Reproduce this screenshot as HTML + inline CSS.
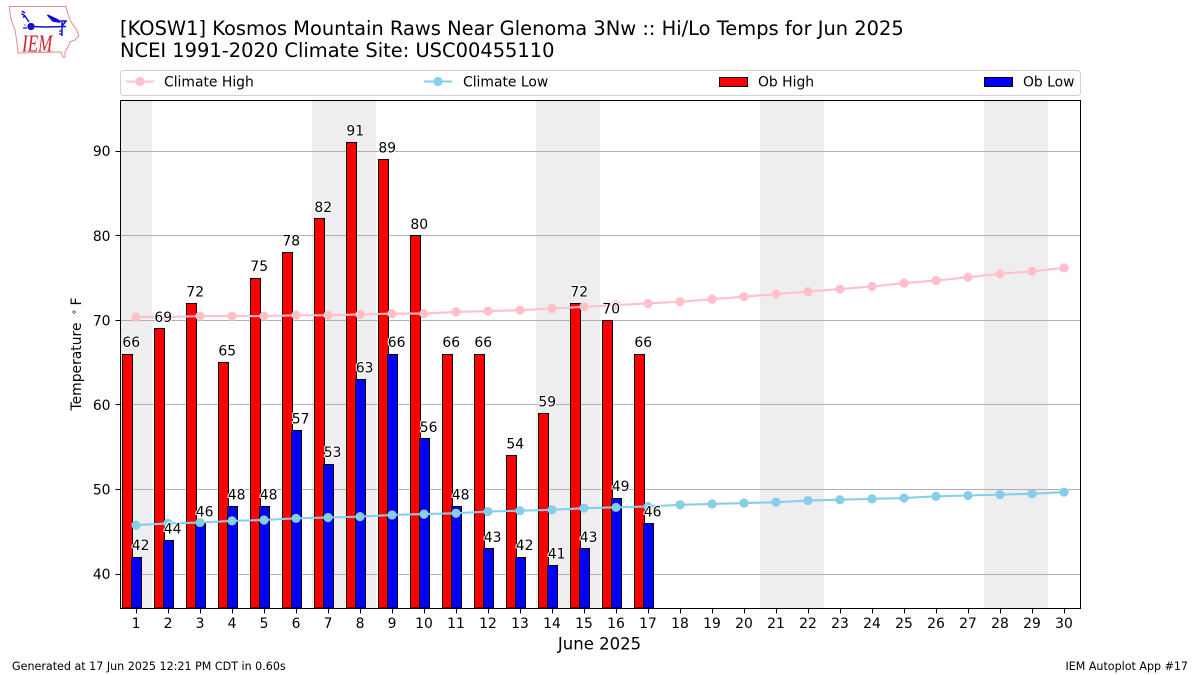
<!DOCTYPE html>
<html lang="en">
<head>
<meta charset="utf-8">
<title>Hi/Lo Temps for Jun 2025</title>
<style>
html,body{margin:0;padding:0;background:#fff;}
svg{display:block;}
text{font-family:"DejaVu Sans","Liberation Sans",sans-serif;fill:#000;}
</style>
</head>
<body>
<svg id="chart" xmlns="http://www.w3.org/2000/svg" width="1200" height="675" viewBox="0 0 1200 675">
  <rect x="0" y="0" width="1200" height="675" fill="#fff"/>
  <g>
    <path d="M9.5 6.5 L66 6.5 L68 14 L71 22 L76.7 30 L78.7 36 L75 40 L70 42 L68 47 L65 52 L65 57 L63 57 L61 52 L18 53 L17 43 L15 30 L12 22 L10 14 Z" fill="#fff" stroke="#e58a8a" stroke-width="1"/>
    <g stroke="#1010d0" fill="none" stroke-width="1.5">
      <path d="M31 26.5 L46 27 L66 26.5 M54 21 L66 21 L62 26 M62 22 L62 36 M29 22 L25 16 L21.5 13.5 M25 16 L23 17.5 M22 11 L25 13"/>
      <path d="M47.5 15 L58 20 L59 22 L53 21 Z" fill="#1010d0"/>
      <circle cx="31" cy="26.5" r="2.9" fill="#1010d0"/>
      <path d="M23 28 l4 0 M24.5 25 l1 0 M59 31 l2.5 0 M59 34 l2.5 0" stroke-width="1.3"/>
    </g>
    <text transform="translate(22,51.5) scale(0.95,1.35)" style="font-family:'Liberation Serif',serif;font-style:italic;font-size:18px;fill:#d8202a;">IEM</text>
  </g>
  <text x="120" y="35" font-size="19.44">[KOSW1] Kosmos Mountain Raws Near Glenoma 3Nw :: Hi/Lo Temps for Jun 2025</text>
  <text x="120" y="57" font-size="19.44">NCEI 1991-2020 Climate Site: USC00455110</text>

  <g>
    <rect x="120.5" y="70.5" width="960" height="25" rx="3" fill="#fff" stroke="#d0d0d0"/>
    <g>
      <line x1="126" x2="154" y1="81.5" y2="81.5" stroke="#ffc0cb" stroke-width="2.08"/>
      <circle cx="140" cy="81.5" r="4.6" fill="#ffc0cb"/>
      <text x="164" y="86.5" font-size="13.9">Climate High</text>
    </g>
    <g>
      <line x1="424" x2="452" y1="81.5" y2="81.5" stroke="#87ceeb" stroke-width="2.08"/>
      <circle cx="438" cy="81.5" r="4.6" fill="#87ceeb"/>
      <text x="463" y="86.5" font-size="13.9">Climate Low</text>
    </g>
    <g>
      <rect x="719.5" y="77.5" width="28" height="9" fill="#f00" stroke="#000"/>
      <text x="758" y="86.5" font-size="13.9">Ob High</text>
    </g>
    <g>
      <rect x="984.5" y="77.5" width="28" height="9" fill="#00f" stroke="#000"/>
      <text x="1023" y="86.5" font-size="13.9">Ob Low</text>
    </g>
  </g>

  <g id="bands"></g>
  <g id="grid"></g>
  <g id="bars"></g>
  <g id="lines"></g>
  <g id="labels"></g>
  <rect x="120.5" y="100.5" width="960" height="508" fill="none" stroke="#000" stroke-width="1"/>
  <g id="xaxis"></g>
  <g id="yaxis"></g>

  <text x="599.5" y="649.5" font-size="16.5" text-anchor="middle">June 2025</text>
  <text transform="translate(81,410.5) rotate(-90)" font-size="13.9"><tspan x="0">Temperature</tspan><tspan x="96" dy="-1" font-size="9.7">°</tspan><tspan x="105" dy="1">F</tspan></text>
  <text x="12" y="670" font-size="11.12">Generated at 17 Jun 2025 12:21 PM CDT in 0.60s</text>
  <text x="1188" y="670" font-size="11.1" text-anchor="end">IEM Autoplot App #17</text>
</svg>
<script>
const days = [1,2,3,4,5,6,7,8,9,10,11,12,13,14,15,16,17,18,19,20,21,22,23,24,25,26,27,28,29,30];
const obHigh = [66,69,72,65,75,78,82,91,89,80,66,66,54,59,72,70,66];
const obLow = [42,44,46,48,48,57,53,63,66,56,48,43,42,41,43,49,46];
const climateHigh = [70.4,70.4,70.5,70.5,70.5,70.6,70.6,70.7,70.8,70.8,71.0,71.1,71.2,71.4,71.6,71.8,72.0,72.2,72.5,72.8,73.1,73.4,73.7,74.0,74.4,74.7,75.1,75.5,75.8,76.2];
const climateLow = [45.8,46.0,46.1,46.3,46.4,46.6,46.7,46.8,47.0,47.1,47.2,47.4,47.5,47.6,47.8,47.9,48.0,48.2,48.3,48.4,48.5,48.7,48.8,48.9,49.0,49.2,49.3,49.4,49.5,49.7];
const yTicks = [40,50,60,70,80,90];
const weekendSpans = [[0.5,1.5],[6.5,8.5],[13.5,15.5],[20.5,22.5],[27.5,29.5]];

const NS = 'http://www.w3.org/2000/svg';
const x = d => 120 + (d - 0.5) * 32;
const y = v => 608 - (v - 36) * 8.46;
const BASE = y(36);
const snap = v => Math.floor(v) + 0.5;
function mk(parent, tag, attrs, txt) {
  const el = document.createElementNS(NS, tag);
  for (const k in attrs) el.setAttribute(k, attrs[k]);
  if (txt !== undefined) el.textContent = txt;
  parent.appendChild(el);
  return el;
}
const gBands = document.getElementById('bands');
const gGrid = document.getElementById('grid');
const gBars = document.getElementById('bars');
const gLines = document.getElementById('lines');
const gLabels = document.getElementById('labels');
const gX = document.getElementById('xaxis');
const gY = document.getElementById('yaxis');

weekendSpans.forEach(s => {
  const el = mk(gBands, 'rect', {x: x(s[0]), y: 100.5, width: x(s[1]) - x(s[0]), height: 508, fill: '#eeeeee'});
  
  
});
yTicks.forEach(t => {
  const g = mk(gGrid, 'line', {x1: 120.5, x2: 1080, y1: snap(y(t)), y2: snap(y(t)), stroke: '#b0b0b0', 'stroke-width': 1});
  
  
  const k = mk(gY, 'line', {x1: 115.5, x2: 120.5, y1: snap(y(t)), y2: snap(y(t)), stroke: '#000', 'stroke-width': 1});
  
  
  const l = mk(gY, 'text', {x: 110.5, y: y(t) + 5, 'font-size': 13.9, 'text-anchor': 'end'}, t);
  
  
});
days.forEach(d => {
  const k = mk(gX, 'line', {x1: snap(x(d)), x2: snap(x(d)), y1: 608.5, y2: 613.5, stroke: '#000', 'stroke-width': 1});
  
  
  const l = mk(gX, 'text', {x: x(d), y: 628, 'font-size': 13.9, 'text-anchor': 'middle'}, d);
  
  
});
function bars(values, off, fill, name) {
  values.forEach((v, i) => {
    const left = snap(x(days[i]) + off);
    const right = snap(x(days[i]) + off + 9.6);
    const top = snap(y(v));
    const b = mk(gBars, 'rect', {x: left, y: top, width: right - left, height: BASE - top, fill: fill, stroke: '#000', 'stroke-width': 1});
    
    
  });
}
function labels(values, off, name) {
  values.forEach((v, i) => {
    const left = x(days[i]) + off;
    const t = mk(gLabels, 'text', {x: left, y: y(v) - 7, 'font-size': 13.9, stroke: '#fff', 'stroke-width': 2, 'paint-order': 'stroke', 'stroke-linejoin': 'round'}, v);
    
    
  });
}
bars(obHigh, -13.6, '#ff0000', 'ob-high-bar');
bars(obLow, -4.2, '#0000ff', 'ob-low-bar');
function series(values, color, name) {
  const p = mk(gLines, 'polyline', {points: values.map((v, i) => x(days[i]) + ',' + y(v)).join(' '), fill: 'none', stroke: color, 'stroke-width': 2.08});
  
  
  values.forEach((v, i) => {
    const c = mk(gLines, 'circle', {cx: x(days[i]), cy: y(v), r: 4.6, fill: color});
    
    
  });
}
series(climateHigh, '#ffc0cb', 'climate-high');
series(climateLow, '#87ceeb', 'climate-low');
labels(obHigh, -13.6, 'ob-high-label');
labels(obLow, -4.2, 'ob-low-label');
</script>
</body>
</html>
